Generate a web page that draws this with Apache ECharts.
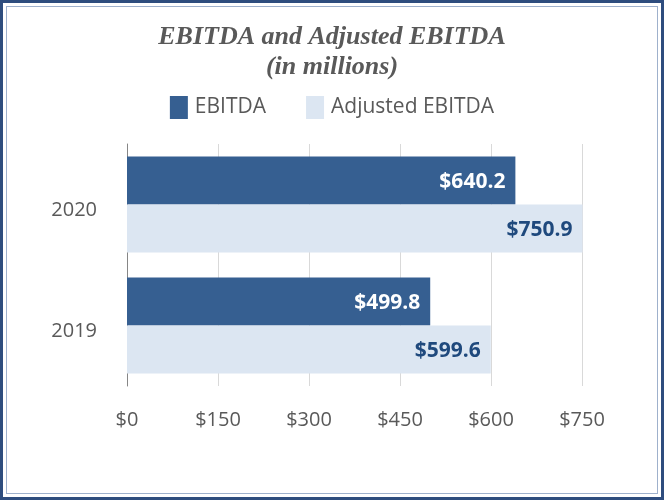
<!DOCTYPE html>
<html><head><meta charset="utf-8">
<script src="https://cdn.jsdelivr.net/npm/echarts@6/dist/echarts.min.js"></script>
<style>
html,body{margin:0;padding:0;background:#fff;}
#frame{position:absolute;left:0;top:0;width:664px;height:500px;box-sizing:border-box;border:3px solid #2e4d7e;}
#inner{position:absolute;left:3px;top:3px;right:3px;bottom:3px;border:1px solid #9fb1cc;}
#c{position:absolute;left:0;top:0;width:664px;height:500px;}
</style></head>
<body>
<div id="c"></div>
<div id="frame"><div id="inner"></div></div>
<script>
const categories = ['2020', '2019'];
const ebitda = [640.2, 499.8];
const adjustedEbitda = [750.9, 599.6];
const seriesNames = ['EBITDA', 'Adjusted EBITDA'];

const chart = echarts.init(document.getElementById('c'));
chart.setOption({
  animation: false,
  title: {
    text: 'EBITDA and Adjusted EBITDA\n(in millions)',
    left: 'center', top: 17,
    textStyle: {fontFamily: 'Liberation Serif', fontStyle: 'italic', fontWeight: 'bold', fontSize: 26, color: '#595959', lineHeight: 30}
  },
  legend: {
    top: 91, left: 'center', itemWidth: 18, itemHeight: 23, itemGap: 40,
    icon: 'rect',
    textStyle: {fontFamily: 'Open Sans', fontSize: 21, color: '#595959', padding: [0, 0, 0, 2]},
    data: seriesNames
  },
  grid: {left: 127, right: 82, top: 144, bottom: 114, containLabel: false},
  xAxis: {
    type: 'value', min: 0, max: 750, interval: 150,
    axisLabel: {formatter: '${value}', fontFamily: 'Open Sans', fontSize: 20, color: '#595959', margin: 24},
    splitLine: {lineStyle: {color: '#d9d9d9', width: 1}},
    axisTick: {show: false},
    axisLine: {show: false}
  },
  yAxis: {
    type: 'category', data: categories, inverse: true,
    axisLine: {show: true, lineStyle: {color: '#868686', width: 1}},
    axisTick: {show: false},
    axisLabel: {fontFamily: 'Open Sans', fontSize: 20, color: '#595959', margin: 30, verticalAlign: 'top', lineHeight: 12}
  },
  series: [
    {
      name: seriesNames[0], type: 'bar', data: ebitda, barWidth: 48, barGap: '0%',
      itemStyle: {color: '#365f91'},
      label: {show: true, position: 'insideRight', distance: 10, offset: [0, 2], formatter: p => '$' + p.value.toFixed(1),
        fontFamily: 'Open Sans', fontWeight: 'bold', fontSize: 21, color: '#ffffff'}
    },
    {
      name: seriesNames[1], type: 'bar', data: adjustedEbitda, barWidth: 48, barGap: '0%',
      itemStyle: {color: '#dce6f2'}, clip: false,
      label: {show: true, position: 'insideRight', distance: 10, offset: [0, 2], formatter: p => '$' + p.value.toFixed(1),
        fontFamily: 'Open Sans', fontWeight: 'bold', fontSize: 21, color: '#1f497d'}
    }
  ]
});
</script>
</body></html>
